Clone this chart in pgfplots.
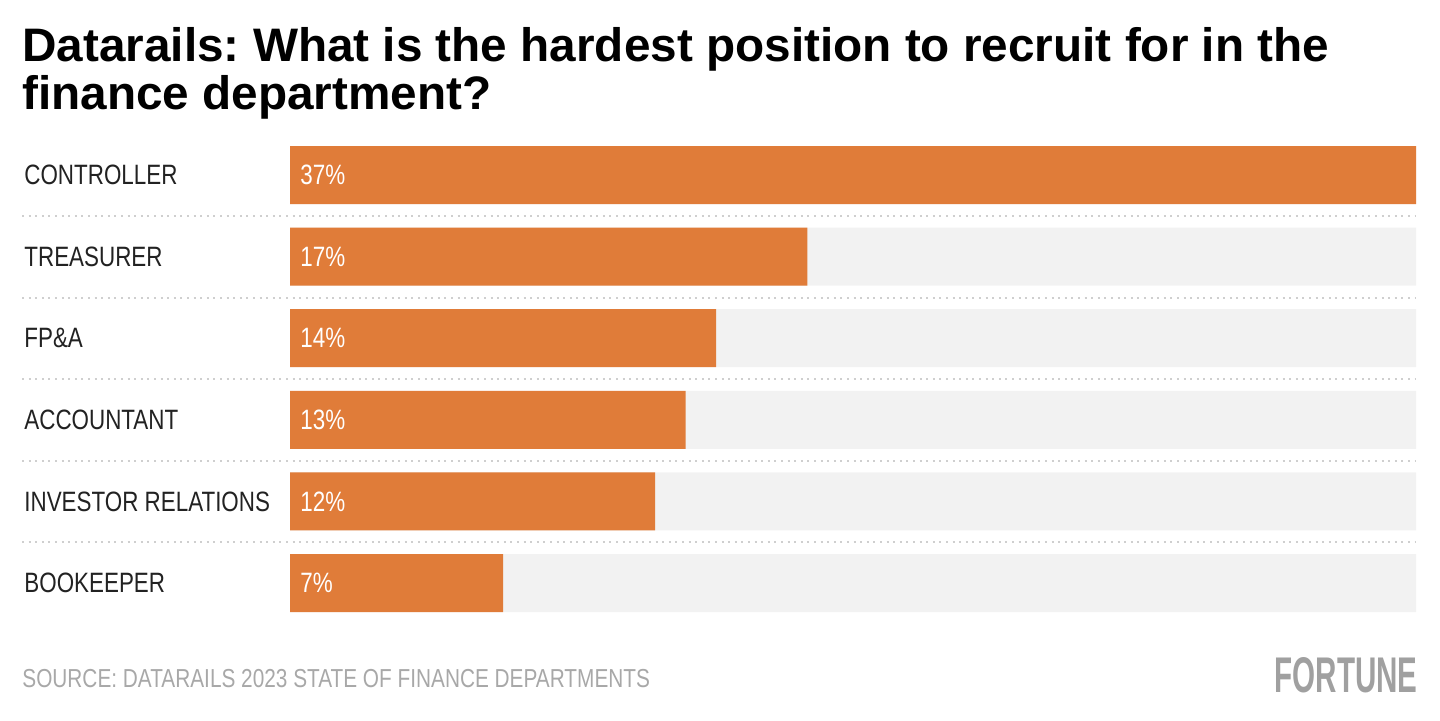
\documentclass[border=0pt]{standalone}
\usepackage{fontspec}
\usepackage{graphicx}
\setmainfont{Liberation Sans}
\newfontfamily\labelfont[FakeStretch=0.8]{Liberation Sans}
\newfontfamily\titlefont[FakeStretch=1.015]{Liberation Sans}
\usepackage{pgfplots}
\pgfplotsset{compat=1.18}
\definecolor{barorange}{HTML}{E07C39}
\definecolor{bargray}{HTML}{F2F2F2}
\definecolor{labelcol}{HTML}{222222}
\definecolor{sepcol}{HTML}{CFCFCF}
\definecolor{srccol}{HTML}{A8A8A8}
\definecolor{fortcol}{HTML}{A0A0A0}
\frenchspacing
\begin{document}
\begin{tikzpicture}
\path[use as bounding box] (0pt,0pt) rectangle (720pt,-360pt);
\node[anchor=base west, inner sep=0pt, font=\titlefont\bfseries\fontsize{23.5}{28}\selectfont] at (11pt,-30.5pt) {Datarails: What is the hardest position to recruit for in the};
\node[anchor=base west, inner sep=0pt, font=\titlefont\bfseries\fontsize{23.5}{28}\selectfont] at (11pt,-54.5pt) {finance department?};
\begin{axis}[
  at={(145pt,-311.9pt)}, anchor=south west,
  width=563pt, height=244.8pt, scale only axis,
  xmin=0, xmax=37, ymin=-0.5, ymax=5.5, y dir=reverse,
  axis line style={draw=none}, major tick length=0pt,
  xtick=\empty,
  ytick={0,1,2,3,4,5},
  yticklabels={CONTROLLER,TREASURER,FP\&A,ACCOUNTANT,INVESTOR RELATIONS,BOOKEEPER},
  yticklabel style={anchor=west, inner sep=0pt, xshift=-133pt, font=\labelfont\fontsize{14}{16}\selectfont, text=labelcol},
  clip=false,
]
\addplot[xbar, bar width=29pt, bar shift=0pt, fill=bargray, draw=none] coordinates {(37,0) (37,1) (37,2) (37,3) (37,4) (37,5)};
\addplot[xbar, bar width=29pt, bar shift=0pt, fill=barorange, draw=none] coordinates {(37,0) (17,1) (14,2) (13,3) (12,4) (7,5)};
\addplot[only marks, mark=none, point meta=explicit symbolic,
  nodes near coords={\pgfplotspointmeta\%},
  every node near coord/.style={anchor=west, inner sep=0pt, xshift=5pt, text=white, font=\labelfont\fontsize{14}{16}\selectfont}]
  coordinates {(0,0) [37] (0,1) [17] (0,2) [14] (0,3) [13] (0,4) [12] (0,5) [7]};
\end{axis}
\foreach \yy in {108,149,189.5,230.5,271} {
  \draw[sepcol, line width=1pt, dash pattern=on 1pt off 2.3pt] (11pt,-\yy pt) -- (708pt,-\yy pt);
}
\node[anchor=base west, inner sep=0pt, font=\labelfont\fontsize{13}{15}\selectfont, text=srccol] at (11pt,-343.5pt) {SOURCE: DATARAILS 2023 STATE OF FINANCE DEPARTMENTS};
\node[anchor=base east, inner sep=0pt, text=fortcol] at (709pt,-346pt) {\resizebox{71.5pt}{17.5pt}{\bfseries FORTUNE}};
\end{tikzpicture}
\end{document}
